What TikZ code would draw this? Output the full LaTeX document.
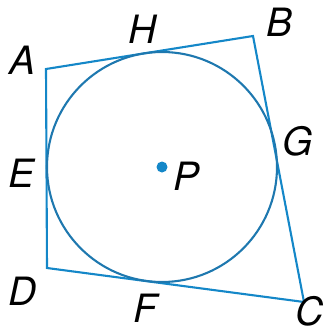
\documentclass[tikz,border=0pt]{standalone}
\usepackage{fontspec}
\setmainfont{TeX Gyre Heros}
\definecolor{quadblue}{RGB}{20,135,200}
\definecolor{circblue}{RGB}{30,120,175}
\begin{document}
\begin{tikzpicture}[x=1pt,y=-1pt,line width=2.1pt,
  lbl/.style={font=\fontsize{39}{44}\selectfont\itshape,inner sep=0pt}]
		\useasboundingbox (0,0) rectangle (330,335);
		\path (46,69) coordinate (A)
		(253,36) coordinate (B)
		(304,302) coordinate (C)
		(47,268) coordinate (D)
		(162,167) coordinate (P);
		\draw[quadblue] (A)--(B)--(C)--(D)--cycle;
		\draw[circblue] (P) circle (115);
		\fill[quadblue] (P) circle (5.5);
		\foreach \x/\px/\py in {A/23/60,H/143/29,B/280/22,G/298/141,E/22/173,P/187/176,D/23/291,F/145/308,C/310/311}{
		    \node[lbl] (l\x) at (\px,\py) {\x};
		}
\end{tikzpicture}
\end{document}
